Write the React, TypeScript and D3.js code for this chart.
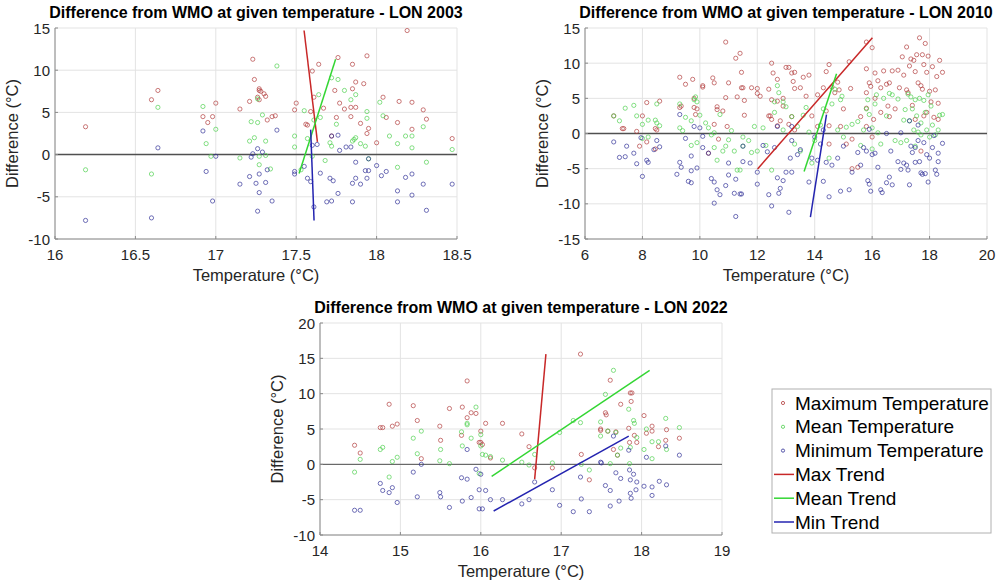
import React from "react";
import * as d3 from "d3";

type P = [number, number];

// ---------- LON 2003 ----------
const max2003: P[] = [
  [16.19, 3.3], [16.6, 6.5], [16.64, 7.6], [16.92, 4.5], [16.95, 3.8], [16.98, 4.5], [17.0, 6.1],
  [17.15, 5.4], [17.21, 6.3], [17.23, 11.3], [17.24, 8.9], [17.26, 6.8], [17.27, 7.8], [17.27, 7.6],
  [17.28, 7.5], [17.3, 7.2], [17.31, 6.9], [17.32, 4.1], [17.35, 4.5], [17.37, 4.6], [17.27, 6.5],
  [17.49, 5.3], [17.5, 6.1], [17.56, 3.6], [17.57, 3.5], [17.59, 5.1], [17.6, 9.9], [17.61, 6.8],
  [17.64, 10.7], [17.67, 5.5], [17.72, 2.2], [17.74, 7.6], [17.75, 4.4], [17.76, 11.5], [17.77, 6.1],
  [17.8, 5.4], [17.84, 4.5], [17.84, 5.6], [17.85, 7.8], [17.85, 10.7], [17.87, 8.6], [17.87, 5.6],
  [17.9, 3.7], [17.92, 8.4], [17.94, 2.5], [17.94, 11.7], [17.95, 3.1], [18.0, 1.4], [18.04, 6.8],
  [18.06, 4.4], [18.13, 3.8], [18.14, 6.3], [18.19, 14.7], [18.22, 3.0], [18.22, 6.2], [18.29, 5.3],
  [18.31, 4.2], [18.47, 1.9],
];
const mean2003: P[] = [
  [16.19, -1.8], [16.6, -2.3], [16.64, 5.6], [16.92, 5.7], [16.94, 1.3], [16.97, -0.2], [17.0, 3.0],
  [17.15, -0.4], [17.21, 1.6], [17.22, 3.9], [17.24, 2.0], [17.26, 6.6], [17.26, 3.8], [17.27, -0.2],
  [17.27, -1.2], [17.29, 4.7], [17.31, 1.6], [17.31, -0.1], [17.34, -1.7], [17.38, 10.5],
  [17.49, 2.2], [17.49, 0.9], [17.53, -1.8], [17.55, 5.2], [17.57, 1.9], [17.6, -0.2], [17.61, 4.1],
  [17.64, 7.1], [17.65, 4.4], [17.68, -0.7], [17.71, 1.4], [17.72, 9.1], [17.72, 1.0], [17.75, 3.6],
  [17.76, 8.9], [17.8, 7.6], [17.84, 6.5], [17.85, 1.6], [17.86, 1.8], [17.87, 2.0], [17.87, 7.1],
  [17.9, 1.3], [17.93, 1.0], [17.94, 5.1], [17.94, 4.3], [17.95, -0.5], [18.02, 6.2], [18.04, 4.6],
  [18.08, 2.2], [18.13, 1.3], [18.13, -1.5], [18.18, 2.2], [18.22, 2.2], [18.22, 0.8], [18.29, 3.3],
  [18.31, -0.9], [18.47, 0.6],
];
const min2003: P[] = [
  [16.19, -7.8], [16.6, -7.5], [16.64, 0.8], [16.92, 2.8], [16.94, -2.0], [16.98, -5.5], [17.0, -0.2],
  [17.15, -3.5], [17.21, -2.6], [17.22, -0.3], [17.23, 0.1], [17.25, -3.4], [17.26, -6.7], [17.26, 0.7],
  [17.27, -2.3], [17.27, -4.5], [17.29, 0.3], [17.31, -3.3], [17.32, -1.8], [17.35, -5.5], [17.38, 2.9],
  [17.49, -2.0], [17.49, -2.3], [17.55, -1.4], [17.57, -2.8], [17.59, -3.2], [17.6, 1.1], [17.61, -6.2],
  [17.63, 1.2], [17.65, -2.2], [17.69, -5.6], [17.71, -2.8], [17.72, -5.5], [17.72, 2.2], [17.73, -3.1],
  [17.76, 2.3], [17.76, -4.6], [17.77, 0.5], [17.81, 0.9], [17.84, 0.9], [17.85, -3.4], [17.85, -5.6],
  [17.87, -0.9], [17.87, -2.8], [17.9, -3.5], [17.93, -1.9], [17.94, -2.8], [17.95, -1.9], [17.95, -0.5],
  [18.0, -1.3], [18.03, -2.5], [18.06, -2.0], [18.13, -4.3], [18.13, -5.6], [18.18, -2.7], [18.22, -2.3],
  [18.22, -4.8], [18.29, -3.5], [18.31, -6.6], [18.47, -3.5],
];
const maxTrend2003: P[] = [[17.549, 14.7], [17.632, 1.5]];
const meanTrend2003: P[] = [[17.518, -2.25], [17.745, 11.3]];
const minTrend2003: P[] = [[17.59, 2.96], [17.611, -7.8]];

// ---------- LON 2010 ----------
const max2010: P[] = [
  [7.0, 2.5], [7.3, 0.7], [7.35, 0.7], [7.8, 0.3], [7.9, -1.8], [8.0, 2.5], [8.15, 4.4], [8.15, -1.2],
  [8.45, 0.7], [8.5, 0.5], [8.6, 4.6], [8.45, -2.2], [9.3, 8.0], [9.3, 3.7], [9.35, 3.9], [9.5, 7.0],
  [9.75, 7.7], [9.8, 5.0], [9.8, 3.7], [9.85, 2.7], [9.9, 3.5], [10.1, 6.6], [10.1, 6.8], [10.3, -2.8],
  [10.45, 7.9], [10.5, 7.2], [10.5, 1.3], [10.6, 3.4], [10.6, 3.8], [10.65, -0.8], [10.8, 3.2],
  [10.9, 5.1], [10.9, 13.0], [10.95, 1.0], [11.0, 7.2], [11.25, 10.7], [11.3, 5.2], [11.4, 11.4],
  [11.45, 8.7], [11.45, 6.5], [11.5, 6.5], [11.55, 4.7], [11.55, 2.6], [11.8, 6.5], [12.0, 5.7],
  [12.0, 6.4], [12.1, 5.3], [12.4, 6.3], [12.5, 10.0], [12.55, 8.6], [12.4, 2.5], [12.45, 2.5],
  [12.5, 4.8], [12.5, 2.0], [12.7, 4.6], [12.7, 7.7], [12.8, 1.8], [12.9, 5.0], [13.0, 9.4], [13.1, 9.4],
  [13.2, 8.6], [13.25, 7.4], [13.3, 6.4], [13.3, 8.7], [13.1, 1.3], [13.3, 0.5], [13.5, 6.5], [13.6, 8.0],
  [13.7, 5.3], [13.8, 8.3], [13.9, 2.5], [14.1, 5.5], [14.1, 1.0], [14.3, 6.5], [14.4, 3.2], [14.4, 8.8],
  [14.5, 9.8], [14.5, 1.1], [14.5, -1.5], [14.6, 6.6], [14.7, 5.8], [14.8, 7.3], [14.85, 6.2], [14.9, 1.0],
  [15.0, 3.5], [15.1, -1.5], [15.2, 10.2], [15.25, 6.4], [15.3, -5.0], [15.3, -0.8], [15.5, -4.8],
  [15.6, 2.4], [15.8, 13.0], [15.8, 9.2], [15.8, 5.8], [15.8, 3.6], [15.9, 7.2], [15.95, 6.7], [16.0, 12.2],
  [16.05, 2.0], [16.1, 8.6], [16.1, 5.0], [16.2, 7.5], [16.3, 6.5], [16.4, 8.9], [16.5, 7.0], [16.55, 3.9],
  [16.6, 2.4], [16.6, 7.2], [16.7, 8.9], [16.8, 3.5], [16.9, 9.0], [16.95, 6.5], [17.05, 10.9], [17.1, 8.3],
  [17.2, 12.3], [17.2, 6.2], [17.25, 5.8], [17.3, 9.6], [17.35, 10.6], [17.4, 4.0], [17.45, 10.4],
  [17.5, 8.8], [17.5, 2.0], [17.55, 11.2], [17.6, 7.2], [17.65, 13.6], [17.7, 6.8], [17.75, 11.2],
  [17.75, 6.3], [17.8, 9.8], [17.8, 2.5], [17.85, 12.8], [17.9, 8.7], [17.9, 3.0], [17.95, 11.0],
  [18.0, 6.0], [18.05, 4.5], [18.1, 9.5], [18.15, 2.3], [18.2, 6.2], [18.25, 8.1], [18.3, 4.3], [18.3, 2.0],
  [18.35, 10.4], [18.45, 8.7], [17.7, -2.5], [12.9, 3.9], [13.2, 2.4], [12.7, 1.1], [15.8, 1.0],
  [16.0, -0.5], [16.3, 3.0],
];
const mean2010: P[] = [
  [7.0, 2.5], [7.2, 1.8], [7.4, 3.6], [7.7, 4.0], [7.8, 2.5], [8.0, -0.7], [8.0, 1.3], [8.2, -0.5],
  [8.2, 1.9], [8.45, 1.9], [8.5, 1.5], [8.5, 4.2], [8.6, 1.1], [9.3, 4.2], [9.3, 0.8], [9.4, 0.4],
  [9.5, 2.3], [9.7, 1.8], [9.8, 4.8], [9.85, 5.2], [9.9, 4.5], [9.7, -1.7], [9.9, -1.3], [10.0, 2.6],
  [10.2, 1.5], [10.3, 0.8], [10.4, -0.2], [10.5, 0.1], [10.5, -2.0], [10.6, -3.8], [10.7, 2.7],
  [10.8, -2.5], [10.9, -1.8], [11.0, -0.9], [11.1, 0.4], [11.2, -2.5], [11.3, -5.2], [11.4, -5.2],
  [11.5, -1.8], [11.5, -0.5], [11.7, -1.0], [11.8, -2.7], [11.9, 1.0], [12.0, -2.5], [12.2, 0.8],
  [12.3, -1.7], [12.5, -5.2], [12.6, 3.0], [12.7, 6.8], [12.75, 5.8], [12.6, 4.5], [12.9, 4.5],
  [13.0, 3.8], [12.9, 0.5], [13.2, 2.4], [13.3, -1.5], [13.4, 1.0], [13.5, -2.5], [13.6, 2.6],
  [13.7, 3.7], [13.8, 0.2], [13.9, -4.2], [14.0, -1.0], [14.2, 1.2], [14.3, 3.5], [14.5, -3.5],
  [14.6, 4.2], [14.7, 6.3], [14.8, 0.5], [14.9, 4.8], [14.95, 5.3], [15.0, -0.5], [15.1, 0.9],
  [15.3, 1.3], [15.5, 1.7], [15.6, -1.7], [15.7, 0.5], [15.8, 3.5], [15.85, 4.8], [15.9, 2.7],
  [16.0, 0.8], [16.0, -2.2], [16.1, 4.2], [16.15, 5.5], [16.2, 0.1], [16.3, -1.5], [16.4, 5.0],
  [16.5, 2.5], [16.6, 5.7], [16.7, 5.5], [16.8, -1.0], [16.9, 4.9], [17.0, -1.3], [17.1, 1.9],
  [17.15, 3.4], [17.2, -1.0], [17.25, 5.6], [17.3, 1.8], [17.35, 5.2], [17.4, 3.5], [17.45, 0.5],
  [17.5, 4.8], [17.5, -1.8], [17.55, 2.5], [17.6, 0.2], [17.65, 5.0], [17.7, -0.2], [17.7, 1.5],
  [17.8, 4.7], [17.85, 3.0], [17.9, 0.5], [17.95, 5.5], [18.0, -0.5], [18.05, 3.9], [18.1, 1.2],
  [18.2, -0.2], [18.3, 0.5], [18.35, 2.6], [18.45, 2.7],
];
const min2010: P[] = [
  [7.0, -1.2], [7.2, -3.4], [7.4, -3.3], [7.45, -1.8], [7.7, -2.8], [7.8, -4.3], [7.95, -0.6],
  [8.0, -6.1], [8.15, -3.8], [8.2, -4.1], [8.4, -2.3], [8.5, -1.0], [8.6, -1.9], [9.2, -5.8],
  [9.3, -4.1], [9.35, -4.8], [9.3, 2.7], [9.5, -0.7], [9.6, -6.8], [9.7, -7.0], [9.7, -5.3], [9.7, -3.2],
  [9.8, 1.0], [9.9, -4.9], [10.0, 0.8], [10.1, -0.4], [10.1, -2.0], [10.3, -2.8], [10.4, -6.4],
  [10.5, -6.9], [10.5, -9.9], [10.6, -8.0], [10.7, -8.7], [10.9, -7.4], [11.0, -4.2], [11.0, -5.9],
  [11.2, -8.5], [11.25, -6.5], [11.25, -11.8], [11.4, -8.6], [11.45, -8.6], [11.5, -4.0], [11.5, -1.8],
  [11.75, -4.2], [12.0, -7.2], [12.0, -5.5], [12.2, -1.7], [12.35, -2.6], [12.4, -8.7], [12.5, -10.3],
  [12.6, -2.0], [12.7, -6.3], [12.75, -8.5], [12.8, -7.8], [12.9, -6.7], [13.0, -5.5], [13.1, -11.2],
  [13.15, -3.5], [13.2, -5.5], [13.2, -1.0], [13.4, -3.0], [13.5, -2.3], [13.8, -6.9], [13.9, -3.5],
  [14.0, -0.5], [14.1, -3.8], [14.2, -1.5], [14.3, -6.8], [14.4, -4.1], [14.5, -9.0], [14.6, -4.5],
  [14.8, -3.5], [14.9, -8.2], [15.0, -1.8], [15.2, -8.0], [15.3, -5.5], [15.5, -2.7], [15.6, -4.5],
  [15.7, -2.0], [15.8, -2.5], [15.85, -6.7], [15.9, -7.2], [15.95, -8.2], [16.0, -3.0], [16.1, -2.8],
  [16.2, -4.8], [16.3, -8.0], [16.35, -8.4], [16.5, -7.0], [16.6, -6.2], [16.65, -2.5], [16.7, -7.3],
  [16.9, -4.0], [17.0, -5.1], [17.1, -4.2], [17.2, -4.5], [17.25, -5.2], [17.3, -7.3], [17.35, -1.8],
  [17.4, -2.7], [17.5, -4.1], [17.5, -2.0], [17.6, -1.0], [17.65, -4.0], [17.7, -5.6], [17.75, -5.8],
  [17.8, -1.3], [17.85, -5.7], [17.9, -3.0], [17.95, -6.9], [18.0, -3.5], [18.1, -2.0], [18.15, -0.3],
  [18.2, -5.2], [18.25, -5.8], [18.3, -4.0], [18.3, -2.8], [18.45, -1.4], [17.3, 1.8], [17.6, 1.2],
  [16.5, 0.0], [15.9, 0.6], [14.3, 0.5], [13.2, 1.0], [12.7, 1.0], [17.0, 0.1],
];
const maxTrend2010: P[] = [[12.01, -5.05], [16.01, 13.6]];
const meanTrend2010: P[] = [[13.63, -5.4], [14.76, 8.5]];
const minTrend2010: P[] = [[13.85, -11.9], [14.41, 2.7]];

// ---------- LON 2022 ----------
const max2022: P[] = [
  [14.43, 2.7], [14.5, 1.6], [14.75, 5.2], [14.78, 5.2], [14.86, 8.5], [14.9, 5.4], [14.96, 5.7],
  [15.16, 8.3], [15.21, 6.2], [15.26, 0.8], [15.49, 5.4], [15.5, 3.4], [15.61, 7.9], [15.76, 4.1],
  [15.77, 8.1], [15.83, 6.6], [15.83, 11.8], [15.88, 7.3], [15.94, 7.2], [15.98, 3.1], [16.0, 4.7],
  [16.0, 3.1], [16.02, 2.8], [16.06, 5.8], [16.12, 0.9], [16.27, 5.8], [16.51, 4.3], [16.6, 2.5],
  [16.67, -0.5], [16.89, -0.5], [17.24, 15.6], [17.25, 1.4], [17.35, -2.2], [17.49, 5.0], [17.49, 4.8],
  [17.55, 7.3], [17.56, 7.0], [17.58, 4.7], [17.61, 11.9], [17.65, 2.1], [17.68, 4.6], [17.7, 1.3],
  [17.74, 8.5], [17.84, 5.1], [17.85, 3.1], [17.86, 10.1], [17.88, 10.1], [17.87, 8.9], [17.91, 4.1],
  [17.94, 3.1], [18.03, 6.9], [18.06, 4.4], [18.13, 5.4], [18.13, 4.7], [18.21, 2.5], [18.3, 3.4],
  [18.31, 4.9], [18.47, 3.7],
];
const mean2022: P[] = [
  [14.43, -1.1], [14.5, 0.7], [14.75, 2.1], [14.78, 2.4], [14.86, -1.8], [14.9, 0.4], [14.96, 1.0],
  [15.16, 3.7], [15.21, 1.5], [15.26, 4.7], [15.49, 0.5], [15.5, 2.1], [15.61, 0.1], [15.76, 4.6],
  [15.77, 2.6], [15.83, 5.8], [15.83, 5.6], [15.88, 3.7], [15.94, 8.1], [15.98, -1.3], [16.0, 4.2],
  [16.0, 2.6], [16.02, 1.4], [16.06, 1.3], [16.12, 1.1], [16.27, 0.6], [16.51, 0.3], [16.6, -0.1],
  [16.67, 1.4], [16.89, 0.2], [16.98, 4.5], [17.15, 6.2], [17.24, 5.9], [17.25, 0.0], [17.35, -0.8],
  [17.49, 6.0], [17.49, 4.0], [17.55, 9.9], [17.58, 4.7], [17.61, 0.1], [17.65, 13.3], [17.68, 4.5],
  [17.7, 1.3], [17.74, 2.3], [17.84, 7.8], [17.85, 0.1], [17.86, 2.4], [17.9, 6.2], [17.91, 5.8],
  [17.94, 3.8], [18.03, 2.1], [18.06, 5.0], [18.13, 0.8], [18.13, 3.2], [18.21, 3.2], [18.3, 6.5],
  [18.31, 2.1], [18.47, 5.2],
];
const min2022: P[] = [
  [14.43, -6.5], [14.5, -6.5], [14.75, -2.7], [14.78, -3.7], [14.86, -4.0], [14.9, -3.3], [14.96, -5.4],
  [15.16, -1.1], [15.21, -4.6], [15.26, 0.0], [15.49, -4.0], [15.5, -4.6], [15.61, -6.1], [15.76, -1.9],
  [15.77, -5.2], [15.83, 2.1], [15.83, -2.1], [15.88, -4.7], [15.94, -0.7], [15.98, -3.6], [15.98, -6.3],
  [16.0, -1.4], [16.02, -6.3], [16.06, -3.7], [16.12, -5.0], [16.27, -5.0], [16.51, -5.6], [16.6, -5.0],
  [16.67, -2.5], [16.89, -3.6], [16.98, -5.8], [17.15, -6.7], [17.24, -1.8], [17.25, -4.9], [17.35, -6.7],
  [17.49, 0.3], [17.5, 0.2], [17.55, -3.0], [17.61, -3.7], [17.61, -5.9], [17.65, 4.0], [17.68, -1.2],
  [17.72, -5.2], [17.74, -2.0], [17.84, 2.0], [17.85, -0.8], [17.86, -2.2], [17.86, -4.1], [17.87, -4.8],
  [17.9, -1.4], [17.94, -2.5], [17.93, -3.6], [18.03, -3.1], [18.06, 1.0], [18.13, -3.2], [18.13, -4.4],
  [18.22, -2.4], [18.3, 2.6], [18.31, -2.9], [18.47, 1.3],
];
const maxTrend2022: P[] = [[16.67, -2.1], [16.81, 15.6]];
const meanTrend2022: P[] = [[16.135, -1.7], [18.1, 13.3]];
const minTrend2022: P[] = [[16.16, -6.6], [17.84, 4.0]];

const xTicks2003 = [16, 16.5, 17, 17.5, 18, 18.5];
const yTicks2003 = [-10, -5, 0, 5, 10, 15];
const xTicks2010 = [6, 8, 10, 12, 14, 16, 18, 20];
const yTicks2010 = [-15, -10, -5, 0, 5, 10, 15];
const xTicks2022 = [14, 15, 16, 17, 18, 19];
const yTicks2022 = [-10, -5, 0, 5, 10, 15, 20];

const legendLabels = [
  "Maximum Temperature",
  "Mean Temperature",
  "Minimum Temperature",
  "Max Trend",
  "Mean Trend",
  "Min Trend",
];

const C_MAX = "#b03a3a";
const C_MEAN = "#4ccf4c";
const C_MIN = "#2e2e96";
const T_MAX = "#c82828";
const T_MEAN = "#33d633";
const T_MIN = "#2424b0";
const FONT = "'Liberation Sans', Arial, sans-serif";

type PanelProps = {
  title: string;
  left: number; top: number; right: number; bottom: number;
  xDomain: [number, number]; yDomain: [number, number];
  xTicks: number[]; yTicks: number[];
  maxD: P[]; meanD: P[]; minD: P[];
  maxT: P[]; meanT: P[]; minT: P[];
  zeroW: number;
};

function Panel(p: PanelProps) {
  const x = d3.scaleLinear().domain(p.xDomain).range([p.left, p.right]);
  const y = d3.scaleLinear().domain(p.yDomain).range([p.bottom, p.top]);
  const line = d3.line<P>().x((d) => x(d[0])).y((d) => y(d[1]));
  const cx = (p.left + p.right) / 2;
  const cy = (p.top + p.bottom) / 2;
  const dots = (data: P[], color: string) =>
    data.map((d, i) => (
      <circle key={i} cx={x(d[0])} cy={y(d[1])} r={2.1} fill="none" stroke={color} strokeWidth={0.8} strokeOpacity={0.85} />
    ));
  return (
    <g fontFamily={FONT}>
      <rect x={p.left} y={p.top} width={p.right - p.left} height={p.bottom - p.top} fill="#fff" />
      {p.xTicks.map((t) => (
        <line key={"gx" + t} x1={x(t)} x2={x(t)} y1={p.top} y2={p.bottom} stroke="#e3e3e3" strokeWidth={1} />
      ))}
      {p.yTicks.map((t) => (
        <line key={"gy" + t} x1={p.left} x2={p.right} y1={y(t)} y2={y(t)} stroke="#e3e3e3" strokeWidth={1} />
      ))}
      <line x1={p.left} x2={p.right} y1={y(0)} y2={y(0)} stroke="#505050" strokeWidth={p.zeroW} />
      {dots(p.maxD, C_MAX)}
      {dots(p.meanD, C_MEAN)}
      {dots(p.minD, C_MIN)}
      <path d={line(p.maxT) || ""} stroke={T_MAX} strokeWidth={1.5} fill="none" />
      <path d={line(p.meanT) || ""} stroke={T_MEAN} strokeWidth={1.5} fill="none" />
      <path d={line(p.minT) || ""} stroke={T_MIN} strokeWidth={1.5} fill="none" />
      <line x1={p.left} x2={p.left} y1={p.top} y2={p.bottom} stroke="#8a8a8a" strokeWidth={1} />
      <line x1={p.left} x2={p.right} y1={p.bottom} y2={p.bottom} stroke="#8a8a8a" strokeWidth={1} />
      {p.xTicks.map((t) => (
        <g key={"tx" + t}>
          <line x1={x(t)} x2={x(t)} y1={p.bottom} y2={p.bottom - 3} stroke="#8a8a8a" />
          <text x={x(t)} y={p.bottom + 21} textAnchor="middle" fontSize={15} fill="#262626">{t}</text>
        </g>
      ))}
      {p.yTicks.map((t) => (
        <g key={"ty" + t}>
          <line x1={p.left} x2={p.left + 3} y1={y(t)} y2={y(t)} stroke="#8a8a8a" />
          <text x={p.left - 5} y={y(t) + 5.5} textAnchor="end" fontSize={15} fill="#262626">{t}</text>
        </g>
      ))}
      <text x={cx} y={p.bottom + 42} textAnchor="middle" fontSize={16.5} fill="#262626">Temperature (°C)</text>
      <text transform={`translate(${p.left - 37},${cy}) rotate(-90)`} textAnchor="middle" fontSize={16.5} fill="#262626">Difference (°C)</text>
      <text x={cx} y={p.top - 10} textAnchor="middle" fontSize={16} fontWeight="bold" fill="#000">{p.title}</text>
    </g>
  );
}

function Legend() {
  const lx = 772, ly = 389, w = 219, h = 144;
  const rowY = d3.scaleLinear().domain([0, 5]).range([403, 522]);
  const colors = [C_MAX, C_MEAN, C_MIN, T_MAX, T_MEAN, T_MIN];
  return (
    <g fontFamily={FONT}>
      <rect x={lx} y={ly} width={w} height={h} fill="#fff" stroke="#b0b0b0" strokeWidth={1} />
      {legendLabels.map((lab, i) => (
        <g key={lab}>
          {i < 3 ? (
            <circle cx={783} cy={rowY(i)} r={1.6} fill="none" stroke={colors[i]} strokeWidth={0.8} />
          ) : (
            <line x1={774} x2={794} y1={rowY(i)} y2={rowY(i)} stroke={colors[i]} strokeWidth={1.5} />
          )}
          <text x={795} y={rowY(i) + 6.5} fontSize={19} fill="#000">{lab}</text>
        </g>
      ))}
    </g>
  );
}

export default function App() {
  return (
    <svg width={1004} height={584} style={{ position: "absolute", left: 0, top: 0, background: "#fff" }}>
      <rect width={1004} height={584} fill="#fff" />
      <Panel
        title="Difference from WMO at given temperature - LON 2003"
        left={55} top={28} right={457} bottom={239}
        xDomain={[16, 18.5]} yDomain={[-10, 15]}
        xTicks={xTicks2003} yTicks={yTicks2003}
        maxD={max2003} meanD={mean2003} minD={min2003}
        maxT={maxTrend2003} meanT={meanTrend2003} minT={minTrend2003}
        zeroW={1.5}
      />
      <Panel
        title="Difference from WMO at given temperature - LON 2010"
        left={585} top={28} right={987} bottom={239}
        xDomain={[6, 20]} yDomain={[-15, 15]}
        xTicks={xTicks2010} yTicks={yTicks2010}
        maxD={max2010} meanD={mean2010} minD={min2010}
        maxT={maxTrend2010} meanT={meanTrend2010} minT={minTrend2010}
        zeroW={1.5}
      />
      <Panel
        title="Difference from WMO at given temperature - LON 2022"
        left={320} top={323} right={722} bottom={535}
        xDomain={[14, 19]} yDomain={[-10, 20]}
        xTicks={xTicks2022} yTicks={yTicks2022}
        maxD={max2022} meanD={mean2022} minD={min2022}
        maxT={maxTrend2022} meanT={meanTrend2022} minT={minTrend2022}
        zeroW={1}
      />
      <Legend />
    </svg>
  );
}
